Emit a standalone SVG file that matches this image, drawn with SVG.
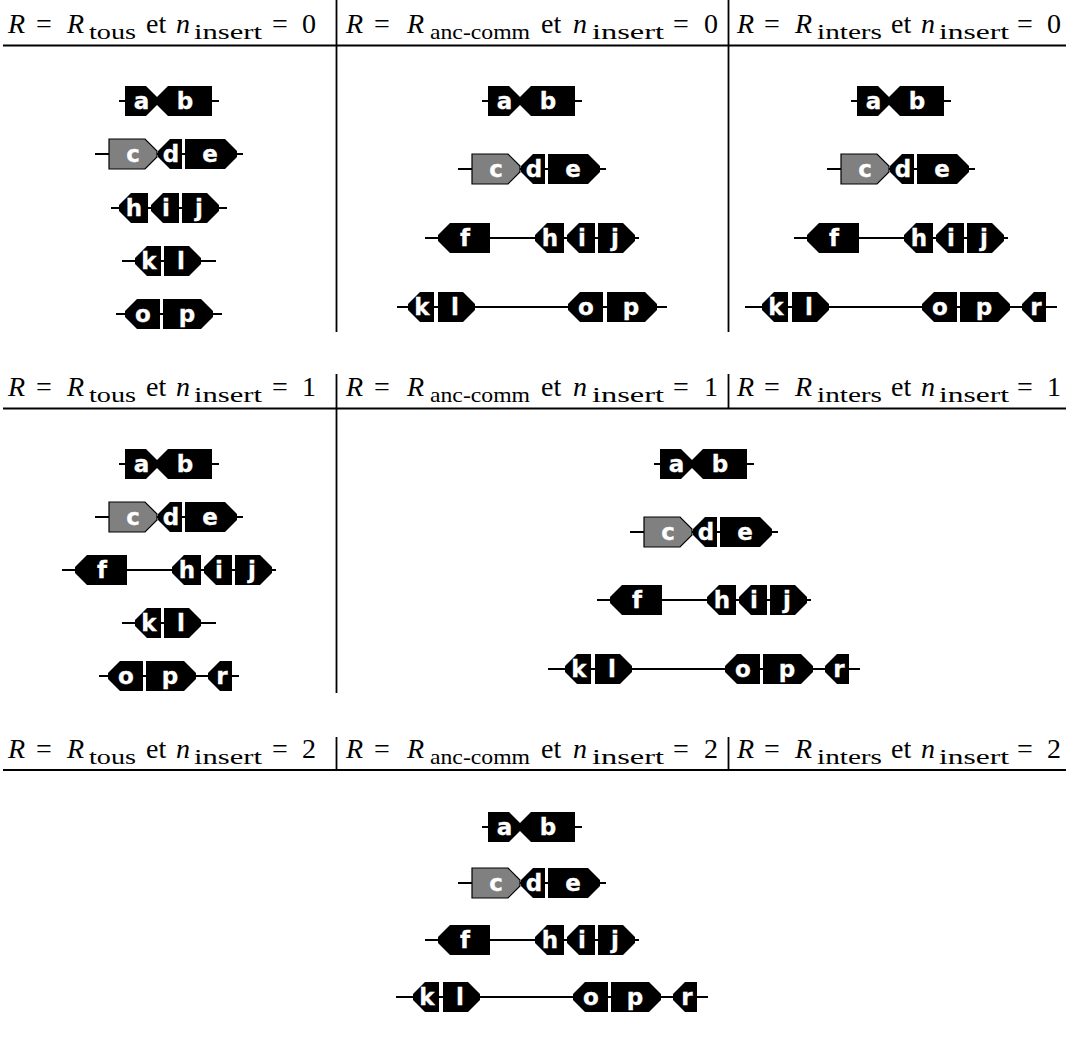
<svg xmlns="http://www.w3.org/2000/svg" xmlns:xlink="http://www.w3.org/1999/xlink" width="1069" height="1048" viewBox="0 0 1069 1048">
<style>
.bb{stroke:#000;stroke-width:2;fill:none}
.rule{stroke:#000;stroke-width:1.8;fill:none}
.gn{fill:#000}
.gy{fill:#808080;stroke:#000;stroke-width:1.2}
.lbl{font-family:"DejaVu Sans","Liberation Sans",Arial,sans-serif;font-weight:bold;font-size:23px;fill:#fff;stroke:#fff;stroke-width:0.3;text-anchor:middle}
.hd{font-family:"Liberation Serif","Times New Roman",serif;font-size:28px;fill:#000}
.it{font-style:italic}
.sub{font-size:21px}
</style>
<defs>
<path id="sA" d="M0,-15H21L33,-3V3L21,15H0Z"/>
<path id="sB" d="M0,-3L12,-15H56V15H12L0,3Z"/>
<path id="sC" d="M0,-15H36L48,-3V3L36,15H0Z"/>
<path id="sD" d="M0,-3L12,-15H24V15H12L0,3Z"/>
<path id="sE" d="M0,-15H40L52,-3V3L40,15H0Z"/>
<path id="sF" d="M0,-3L12,-15H52V15H12L0,3Z"/>
<path id="sH" d="M0,-3L12,-15H29V15H12L0,3Z"/>
<path id="sI" d="M0,-3L12,-15H28V15H12L0,3Z"/>
<path id="sJ" d="M0,-15H25L37,-3V3L25,15H0Z"/>
<path id="sK" d="M0,-3L12,-15H26V15H12L0,3Z"/>
<path id="sL" d="M0,-15H25L37,-3V3L25,15H0Z"/>
<path id="sO" d="M0,-3L12,-15H35V15H12L0,3Z"/>
<path id="sP" d="M0,-15H38L50,-3V3L38,15H0Z"/>
<path id="sR" d="M0,-3L12,-15H24V15H12L0,3Z"/>
</defs>
<rect width="1069" height="1048" fill="#fff"/>
<g id="table-rules">
<line class="rule" x1="3" y1="45.5" x2="1066" y2="45.5"/>
<line class="rule" x1="3" y1="408.5" x2="1066" y2="408.5"/>
<line class="rule" x1="3" y1="770" x2="1066" y2="770"/>
<line class="rule" x1="336.5" y1="0" x2="336.5" y2="332"/>
<line class="rule" x1="728.5" y1="0" x2="728.5" y2="332"/>
<line class="rule" x1="336.5" y1="374" x2="336.5" y2="693"/>
<line class="rule" x1="728.5" y1="374" x2="728.5" y2="408.5"/>
<line class="rule" x1="336.5" y1="737" x2="336.5" y2="770"/>
<line class="rule" x1="728.5" y1="737" x2="728.5" y2="770"/>
</g>
<g id="headers">
<text id="h-1-1" class="hd"><tspan x="8" y="33" class="it">R</tspan> <tspan x="36">=</tspan> <tspan x="67" class="it">R</tspan><tspan x="89" y="39" class="sub" textLength="47" lengthAdjust="spacingAndGlyphs">tous</tspan> <tspan x="146" y="33">et</tspan> <tspan x="176" class="it">n</tspan><tspan x="194" y="39" class="sub" textLength="68" lengthAdjust="spacingAndGlyphs">insert</tspan> <tspan x="272" y="33">=</tspan> <tspan x="302">0</tspan></text>
<text id="h-1-2" class="hd"><tspan x="346" y="33" class="it">R</tspan> <tspan x="374">=</tspan> <tspan x="407" class="it">R</tspan><tspan x="430" y="39" class="sub" textLength="100" lengthAdjust="spacingAndGlyphs">anc-comm</tspan> <tspan x="541" y="33">et</tspan> <tspan x="573" class="it">n</tspan><tspan x="592" y="39" class="sub" textLength="72" lengthAdjust="spacingAndGlyphs">insert</tspan> <tspan x="673" y="33">=</tspan> <tspan x="704">0</tspan></text>
<text id="h-1-3" class="hd"><tspan x="737" y="33" class="it">R</tspan> <tspan x="764">=</tspan> <tspan x="795" class="it">R</tspan><tspan x="817" y="39" class="sub" textLength="65" lengthAdjust="spacingAndGlyphs">inters</tspan> <tspan x="891" y="33">et</tspan> <tspan x="921" class="it">n</tspan><tspan x="939" y="39" class="sub" textLength="70" lengthAdjust="spacingAndGlyphs">insert</tspan> <tspan x="1017" y="33">=</tspan> <tspan x="1047">0</tspan></text>
<text id="h-2-1" class="hd"><tspan x="8" y="396" class="it">R</tspan> <tspan x="36">=</tspan> <tspan x="67" class="it">R</tspan><tspan x="89" y="402" class="sub" textLength="47" lengthAdjust="spacingAndGlyphs">tous</tspan> <tspan x="146" y="396">et</tspan> <tspan x="176" class="it">n</tspan><tspan x="194" y="402" class="sub" textLength="68" lengthAdjust="spacingAndGlyphs">insert</tspan> <tspan x="272" y="396">=</tspan> <tspan x="302">1</tspan></text>
<text id="h-2-2" class="hd"><tspan x="346" y="396" class="it">R</tspan> <tspan x="374">=</tspan> <tspan x="407" class="it">R</tspan><tspan x="430" y="402" class="sub" textLength="100" lengthAdjust="spacingAndGlyphs">anc-comm</tspan> <tspan x="541" y="396">et</tspan> <tspan x="573" class="it">n</tspan><tspan x="592" y="402" class="sub" textLength="72" lengthAdjust="spacingAndGlyphs">insert</tspan> <tspan x="673" y="396">=</tspan> <tspan x="704">1</tspan></text>
<text id="h-2-3" class="hd"><tspan x="737" y="396" class="it">R</tspan> <tspan x="764">=</tspan> <tspan x="795" class="it">R</tspan><tspan x="817" y="402" class="sub" textLength="65" lengthAdjust="spacingAndGlyphs">inters</tspan> <tspan x="891" y="396">et</tspan> <tspan x="921" class="it">n</tspan><tspan x="939" y="402" class="sub" textLength="70" lengthAdjust="spacingAndGlyphs">insert</tspan> <tspan x="1017" y="396">=</tspan> <tspan x="1047">1</tspan></text>
<text id="h-3-1" class="hd"><tspan x="8" y="758" class="it">R</tspan> <tspan x="36">=</tspan> <tspan x="67" class="it">R</tspan><tspan x="89" y="764" class="sub" textLength="47" lengthAdjust="spacingAndGlyphs">tous</tspan> <tspan x="146" y="758">et</tspan> <tspan x="176" class="it">n</tspan><tspan x="194" y="764" class="sub" textLength="68" lengthAdjust="spacingAndGlyphs">insert</tspan> <tspan x="272" y="758">=</tspan> <tspan x="302">2</tspan></text>
<text id="h-3-2" class="hd"><tspan x="346" y="758" class="it">R</tspan> <tspan x="374">=</tspan> <tspan x="407" class="it">R</tspan><tspan x="430" y="764" class="sub" textLength="100" lengthAdjust="spacingAndGlyphs">anc-comm</tspan> <tspan x="541" y="758">et</tspan> <tspan x="573" class="it">n</tspan><tspan x="592" y="764" class="sub" textLength="72" lengthAdjust="spacingAndGlyphs">insert</tspan> <tspan x="673" y="758">=</tspan> <tspan x="704">2</tspan></text>
<text id="h-3-3" class="hd"><tspan x="737" y="758" class="it">R</tspan> <tspan x="764">=</tspan> <tspan x="795" class="it">R</tspan><tspan x="817" y="764" class="sub" textLength="65" lengthAdjust="spacingAndGlyphs">inters</tspan> <tspan x="891" y="758">et</tspan> <tspan x="921" class="it">n</tspan><tspan x="939" y="764" class="sub" textLength="70" lengthAdjust="spacingAndGlyphs">insert</tspan> <tspan x="1017" y="758">=</tspan> <tspan x="1047">2</tspan></text>
</g>
<g id="connectors">
<line class="bb" x1="119" y1="101" x2="219" y2="101"/>
<line class="bb" x1="95" y1="154" x2="243" y2="154"/>
<line class="bb" x1="111" y1="208" x2="227" y2="208"/>
<line class="bb" x1="122" y1="261" x2="216" y2="261"/>
<line class="bb" x1="116" y1="314" x2="222" y2="314"/>
<line class="bb" x1="482" y1="101" x2="582" y2="101"/>
<line class="bb" x1="458" y1="169" x2="606" y2="169"/>
<line class="bb" x1="425" y1="238" x2="639" y2="238"/>
<line class="bb" x1="397" y1="307" x2="667" y2="307"/>
<line class="bb" x1="851" y1="101" x2="951" y2="101"/>
<line class="bb" x1="827" y1="169" x2="975" y2="169"/>
<line class="bb" x1="794" y1="238" x2="1008" y2="238"/>
<line class="bb" x1="745" y1="307" x2="1057" y2="307"/>
<line class="bb" x1="119" y1="464" x2="219" y2="464"/>
<line class="bb" x1="95" y1="517" x2="243" y2="517"/>
<line class="bb" x1="62" y1="570" x2="276" y2="570"/>
<line class="bb" x1="122" y1="623" x2="216" y2="623"/>
<line class="bb" x1="99" y1="676" x2="239" y2="676"/>
<line class="bb" x1="654" y1="464" x2="754" y2="464"/>
<line class="bb" x1="630" y1="532" x2="778" y2="532"/>
<line class="bb" x1="597" y1="600" x2="811" y2="600"/>
<line class="bb" x1="548" y1="669" x2="860" y2="669"/>
<line class="bb" x1="482" y1="827" x2="582" y2="827"/>
<line class="bb" x1="458" y1="883" x2="606" y2="883"/>
<line class="bb" x1="425" y1="940" x2="639" y2="940"/>
<line class="bb" x1="396" y1="997" x2="708" y2="997"/>
</g>
<g id="panel-1">
<g id="p1-a" transform="translate(125,101)"><use href="#sA" class="gn"/><text class="lbl" x="16.5" y="8">a</text></g>
<g id="p1-b" transform="translate(156,101)"><use href="#sB" class="gn"/><text class="lbl" x="29" y="8">b</text></g>
<g id="p1-c" transform="translate(109,154)"><use href="#sC" class="gy"/><text class="lbl" x="24" y="8">c</text></g>
<g id="p1-d" transform="translate(158,154)"><use href="#sD" class="gn"/><text class="lbl" x="13" y="8">d</text></g>
<g id="p1-e" transform="translate(185,154)"><use href="#sE" class="gn"/><text class="lbl" x="25" y="8">e</text></g>
<g id="p1-h" transform="translate(119,208)"><use href="#sH" class="gn"/><text class="lbl" x="15" y="8">h</text></g>
<g id="p1-i" transform="translate(151,208)"><use href="#sI" class="gn"/><text class="lbl" x="15" y="8">i</text></g>
<g id="p1-j" transform="translate(182,208)"><use href="#sJ" class="gn"/><text class="lbl" x="17" y="8">j</text></g>
<g id="p1-k" transform="translate(135,261)"><use href="#sK" class="gn"/><text class="lbl" x="14" y="8">k</text></g>
<g id="p1-l" transform="translate(164,261)"><use href="#sL" class="gn"/><text class="lbl" x="17" y="8">l</text></g>
<g id="p1-o" transform="translate(125,314)"><use href="#sO" class="gn"/><text class="lbl" x="18" y="8">o</text></g>
<g id="p1-p" transform="translate(163,314)"><use href="#sP" class="gn"/><text class="lbl" x="24" y="8">p</text></g>
</g>
<g id="panel-2">
<g id="p2-a" transform="translate(488,101)"><use href="#sA" class="gn"/><text class="lbl" x="16.5" y="8">a</text></g>
<g id="p2-b" transform="translate(519,101)"><use href="#sB" class="gn"/><text class="lbl" x="29" y="8">b</text></g>
<g id="p2-c" transform="translate(472,169)"><use href="#sC" class="gy"/><text class="lbl" x="24" y="8">c</text></g>
<g id="p2-d" transform="translate(521,169)"><use href="#sD" class="gn"/><text class="lbl" x="13" y="8">d</text></g>
<g id="p2-e" transform="translate(548,169)"><use href="#sE" class="gn"/><text class="lbl" x="25" y="8">e</text></g>
<g id="p2-f" transform="translate(438,238)"><use href="#sF" class="gn"/><text class="lbl" x="27" y="8">f</text></g>
<g id="p2-h" transform="translate(535,238)"><use href="#sH" class="gn"/><text class="lbl" x="15" y="8">h</text></g>
<g id="p2-i" transform="translate(567,238)"><use href="#sI" class="gn"/><text class="lbl" x="15" y="8">i</text></g>
<g id="p2-j" transform="translate(598,238)"><use href="#sJ" class="gn"/><text class="lbl" x="17" y="8">j</text></g>
<g id="p2-k" transform="translate(408,307)"><use href="#sK" class="gn"/><text class="lbl" x="14" y="8">k</text></g>
<g id="p2-l" transform="translate(438,307)"><use href="#sL" class="gn"/><text class="lbl" x="17" y="8">l</text></g>
<g id="p2-o" transform="translate(568,307)"><use href="#sO" class="gn"/><text class="lbl" x="18" y="8">o</text></g>
<g id="p2-p" transform="translate(607,307)"><use href="#sP" class="gn"/><text class="lbl" x="24" y="8">p</text></g>
</g>
<g id="panel-3">
<g id="p3-a" transform="translate(857,101)"><use href="#sA" class="gn"/><text class="lbl" x="16.5" y="8">a</text></g>
<g id="p3-b" transform="translate(888,101)"><use href="#sB" class="gn"/><text class="lbl" x="29" y="8">b</text></g>
<g id="p3-c" transform="translate(841,169)"><use href="#sC" class="gy"/><text class="lbl" x="24" y="8">c</text></g>
<g id="p3-d" transform="translate(890,169)"><use href="#sD" class="gn"/><text class="lbl" x="13" y="8">d</text></g>
<g id="p3-e" transform="translate(917,169)"><use href="#sE" class="gn"/><text class="lbl" x="25" y="8">e</text></g>
<g id="p3-f" transform="translate(807,238)"><use href="#sF" class="gn"/><text class="lbl" x="27" y="8">f</text></g>
<g id="p3-h" transform="translate(904,238)"><use href="#sH" class="gn"/><text class="lbl" x="15" y="8">h</text></g>
<g id="p3-i" transform="translate(936,238)"><use href="#sI" class="gn"/><text class="lbl" x="15" y="8">i</text></g>
<g id="p3-j" transform="translate(967,238)"><use href="#sJ" class="gn"/><text class="lbl" x="17" y="8">j</text></g>
<g id="p3-k" transform="translate(762,307)"><use href="#sK" class="gn"/><text class="lbl" x="14" y="8">k</text></g>
<g id="p3-l" transform="translate(792,307)"><use href="#sL" class="gn"/><text class="lbl" x="17" y="8">l</text></g>
<g id="p3-o" transform="translate(922,307)"><use href="#sO" class="gn"/><text class="lbl" x="18" y="8">o</text></g>
<g id="p3-p" transform="translate(960,307)"><use href="#sP" class="gn"/><text class="lbl" x="24" y="8">p</text></g>
<g id="p3-r" transform="translate(1022,307)"><use href="#sR" class="gn"/><text class="lbl" x="14" y="8">r</text></g>
</g>
<g id="panel-4">
<g id="p4-a" transform="translate(125,464)"><use href="#sA" class="gn"/><text class="lbl" x="16.5" y="8">a</text></g>
<g id="p4-b" transform="translate(156,464)"><use href="#sB" class="gn"/><text class="lbl" x="29" y="8">b</text></g>
<g id="p4-c" transform="translate(109,517)"><use href="#sC" class="gy"/><text class="lbl" x="24" y="8">c</text></g>
<g id="p4-d" transform="translate(158,517)"><use href="#sD" class="gn"/><text class="lbl" x="13" y="8">d</text></g>
<g id="p4-e" transform="translate(185,517)"><use href="#sE" class="gn"/><text class="lbl" x="25" y="8">e</text></g>
<g id="p4-f" transform="translate(75,570)"><use href="#sF" class="gn"/><text class="lbl" x="27" y="8">f</text></g>
<g id="p4-h" transform="translate(172,570)"><use href="#sH" class="gn"/><text class="lbl" x="15" y="8">h</text></g>
<g id="p4-i" transform="translate(204,570)"><use href="#sI" class="gn"/><text class="lbl" x="15" y="8">i</text></g>
<g id="p4-j" transform="translate(235,570)"><use href="#sJ" class="gn"/><text class="lbl" x="17" y="8">j</text></g>
<g id="p4-k" transform="translate(135,623)"><use href="#sK" class="gn"/><text class="lbl" x="14" y="8">k</text></g>
<g id="p4-l" transform="translate(164,623)"><use href="#sL" class="gn"/><text class="lbl" x="17" y="8">l</text></g>
<g id="p4-o" transform="translate(108,676)"><use href="#sO" class="gn"/><text class="lbl" x="18" y="8">o</text></g>
<g id="p4-p" transform="translate(146,676)"><use href="#sP" class="gn"/><text class="lbl" x="24" y="8">p</text></g>
<g id="p4-r" transform="translate(208,676)"><use href="#sR" class="gn"/><text class="lbl" x="14" y="8">r</text></g>
</g>
<g id="panel-5">
<g id="p5-a" transform="translate(660,464)"><use href="#sA" class="gn"/><text class="lbl" x="16.5" y="8">a</text></g>
<g id="p5-b" transform="translate(691,464)"><use href="#sB" class="gn"/><text class="lbl" x="29" y="8">b</text></g>
<g id="p5-c" transform="translate(644,532)"><use href="#sC" class="gy"/><text class="lbl" x="24" y="8">c</text></g>
<g id="p5-d" transform="translate(693,532)"><use href="#sD" class="gn"/><text class="lbl" x="13" y="8">d</text></g>
<g id="p5-e" transform="translate(720,532)"><use href="#sE" class="gn"/><text class="lbl" x="25" y="8">e</text></g>
<g id="p5-f" transform="translate(610,600)"><use href="#sF" class="gn"/><text class="lbl" x="27" y="8">f</text></g>
<g id="p5-h" transform="translate(707,600)"><use href="#sH" class="gn"/><text class="lbl" x="15" y="8">h</text></g>
<g id="p5-i" transform="translate(739,600)"><use href="#sI" class="gn"/><text class="lbl" x="15" y="8">i</text></g>
<g id="p5-j" transform="translate(770,600)"><use href="#sJ" class="gn"/><text class="lbl" x="17" y="8">j</text></g>
<g id="p5-k" transform="translate(565,669)"><use href="#sK" class="gn"/><text class="lbl" x="14" y="8">k</text></g>
<g id="p5-l" transform="translate(595,669)"><use href="#sL" class="gn"/><text class="lbl" x="17" y="8">l</text></g>
<g id="p5-o" transform="translate(725,669)"><use href="#sO" class="gn"/><text class="lbl" x="18" y="8">o</text></g>
<g id="p5-p" transform="translate(763,669)"><use href="#sP" class="gn"/><text class="lbl" x="24" y="8">p</text></g>
<g id="p5-r" transform="translate(825,669)"><use href="#sR" class="gn"/><text class="lbl" x="14" y="8">r</text></g>
</g>
<g id="panel-6">
<g id="p6-a" transform="translate(488,827)"><use href="#sA" class="gn"/><text class="lbl" x="16.5" y="8">a</text></g>
<g id="p6-b" transform="translate(519,827)"><use href="#sB" class="gn"/><text class="lbl" x="29" y="8">b</text></g>
<g id="p6-c" transform="translate(472,883)"><use href="#sC" class="gy"/><text class="lbl" x="24" y="8">c</text></g>
<g id="p6-d" transform="translate(521,883)"><use href="#sD" class="gn"/><text class="lbl" x="13" y="8">d</text></g>
<g id="p6-e" transform="translate(548,883)"><use href="#sE" class="gn"/><text class="lbl" x="25" y="8">e</text></g>
<g id="p6-f" transform="translate(438,940)"><use href="#sF" class="gn"/><text class="lbl" x="27" y="8">f</text></g>
<g id="p6-h" transform="translate(535,940)"><use href="#sH" class="gn"/><text class="lbl" x="15" y="8">h</text></g>
<g id="p6-i" transform="translate(567,940)"><use href="#sI" class="gn"/><text class="lbl" x="15" y="8">i</text></g>
<g id="p6-j" transform="translate(598,940)"><use href="#sJ" class="gn"/><text class="lbl" x="17" y="8">j</text></g>
<g id="p6-k" transform="translate(413,997)"><use href="#sK" class="gn"/><text class="lbl" x="14" y="8">k</text></g>
<g id="p6-l" transform="translate(443,997)"><use href="#sL" class="gn"/><text class="lbl" x="17" y="8">l</text></g>
<g id="p6-o" transform="translate(573,997)"><use href="#sO" class="gn"/><text class="lbl" x="18" y="8">o</text></g>
<g id="p6-p" transform="translate(611,997)"><use href="#sP" class="gn"/><text class="lbl" x="24" y="8">p</text></g>
<g id="p6-r" transform="translate(673,997)"><use href="#sR" class="gn"/><text class="lbl" x="14" y="8">r</text></g>
</g>
</svg>
